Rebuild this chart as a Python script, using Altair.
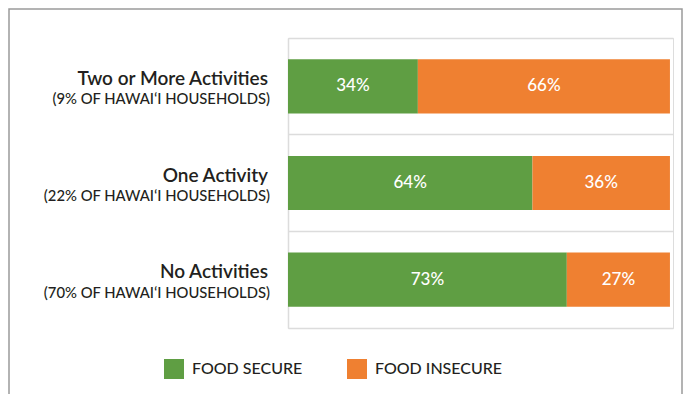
import altair as alt
import pandas as pd

categories = ["Two or More Activities", "One Activity", "No Activities"]
shares = ["(9% OF HAWAIʻI HOUSEHOLDS)", "(22% OF HAWAIʻI HOUSEHOLDS)", "(70% OF HAWAIʻI HOUSEHOLDS)"]
secure = [34, 64, 73]
insecure = [66, 36, 27]
statuses = ["FOOD SECURE", "FOOD INSECURE"]
colors = ["#5f9e43", "#ef8031"]

rows = []
for c, s, i in zip(categories, secure, insecure):
    rows.append({"category": c, "status": statuses[0], "value": s, "ord": 0, "label": f"{s}%"})
    rows.append({"category": c, "status": statuses[1], "value": i, "ord": 1, "label": f"{i}%"})
df = pd.DataFrame(rows)
cat_df = pd.DataFrame({"category": categories, "share": shares})
frame_df = pd.DataFrame({"a": [0]})

FONT = "Lato"
TEXT = "#231f20"
GRID = "#dcdcdc"

y_enc = alt.Y(
    "category:N",
    sort=categories,
    scale=alt.Scale(paddingInner=0, paddingOuter=0),
    axis=alt.Axis(title=None, labels=False, ticks=False, domain=True, domainColor=GRID,
                  domainWidth=1.5, grid=True, gridColor=GRID, gridWidth=1.5, bandPosition=0),
)

bars = alt.Chart(df).mark_bar(height=alt.RelativeBandSize(0.56)).encode(
    y=y_enc,
    x=alt.X("value:Q", stack="zero",
            scale=alt.Scale(domain=[0, 100.8], nice=False, zero=True),
            axis=alt.Axis(title=None, labels=False, ticks=False, grid=False, domain=True,
                          domainColor=GRID, domainWidth=1.5)),
    color=alt.Color("status:N", scale=alt.Scale(domain=statuses, range=colors),
                    legend=alt.Legend(title=None, orient="none", legendX=-124, legendY=321,
                                      direction="horizontal", symbolType="square",
                                      symbolSize=400, symbolStrokeWidth=0, symbolOpacity=1,
                                      labelFontSize=16, labelFont=FONT, labelColor=TEXT,
                                      labelFontWeight=500,
                                      labelOffset=8, columnPadding=44)),
    order=alt.Order("ord:Q"),
)

pct = alt.Chart(df).transform_stack(
    stack="value", groupby=["category"], as_=["v0", "v1"],
    sort=[alt.SortField("ord", order="ascending")],
).transform_calculate(mid="(datum.v0 + datum.v1) / 2").mark_text(
    color="white", fontSize=17, font=FONT, fontWeight=500, baseline="middle"
).encode(
    x=alt.X("mid:Q"),
    y=alt.Y("category:N", sort=categories),
    text="label:N",
)

line1 = alt.Chart(cat_df).mark_text(
    align="right", baseline="alphabetic", dy=-1.5, fontSize=19, fontWeight=600,
    font=FONT, color=TEXT
).encode(x=alt.value(-20), y=alt.Y("category:N", sort=categories), text="category:N")

line2 = alt.Chart(cat_df).mark_text(
    align="right", baseline="alphabetic", dy=18, fontSize=14.8, fontWeight=500,
    font=FONT, color=TEXT
).encode(x=alt.value(-18), y=alt.Y("category:N", sort=categories), text="share:N")

frame = alt.Chart(frame_df).mark_rect(
    fillOpacity=0, stroke="#9a9a9a", strokeWidth=1.5
).encode(x=alt.value(-279), x2=alt.value(394), y=alt.value(-29), y2=alt.value(500))

chart = alt.layer(frame, bars, pct, line1, line2).properties(
    width=385, height=290,
    padding={"left": 280, "top": 30, "right": 10, "bottom": 66},
    autosize=alt.AutoSizeParams(type="none"),
).configure_view(stroke=None).configure(background="white")

chart.save("out.html", embed_options={"renderer": "svg", "actions": False})
